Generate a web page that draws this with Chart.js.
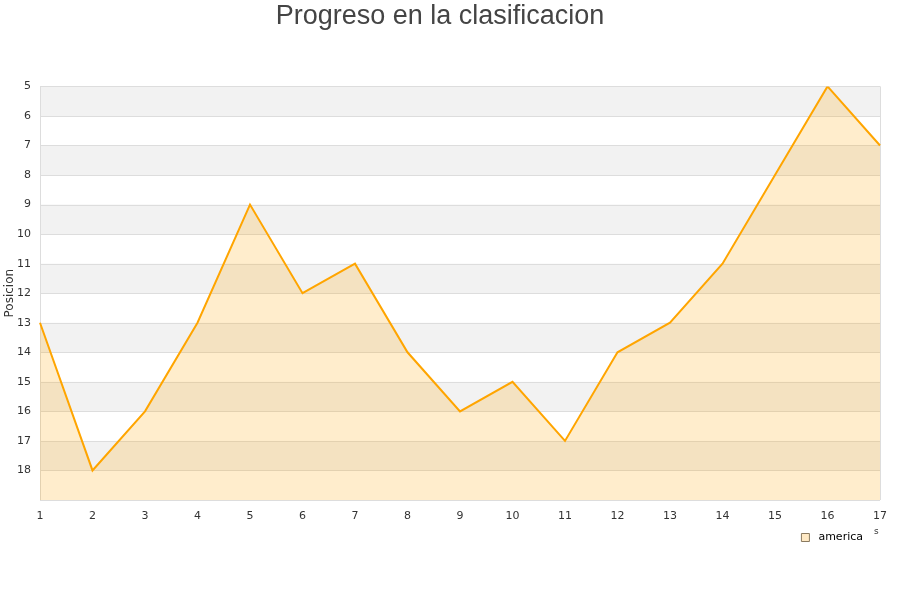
<!DOCTYPE html>
<html lang="es">
<head>
<meta charset="UTF-8">
<title>Progreso en la clasificacion</title>
<script src="https://cdn.jsdelivr.net/npm/chart.js"></script>
<style>
  html, body { margin: 0; padding: 0; background: #fff; }
  #wrap { width: 900px; height: 600px; position: relative; }
</style>
</head>
<body>
<div id="wrap"><canvas id="grafico"></canvas></div>
<script>
// datos
const jornadas = ['1','2','3','4','5','6','7','8','9','10','11','12','13','14','15','16','17'];
const posiciones = [13, 18, 16, 13, 9, 12, 11, 14, 16, 15, 17, 14, 13, 11, 8, 5, 7];
const equipo = 'america';
const posMin = 5;
const posMax = 19;

// franjas grises alternas detras de la grafica
const franjas = {
    id: 'franjas',
    afterLayout(chart) {
        // correr la leyenda un poco a la izquierda y abajo
        const lg = chart.legend;
        lg.left -= 11; lg.right -= 11;
        lg.top += 2; lg.bottom += 2;
    },
    beforeDatasetsDraw(chart) {
        const ctx = chart.ctx;
        const area = chart.chartArea;
        const y = chart.scales.y;
        ctx.save();
        ctx.fillStyle = '#f2f2f2';
        for (let v = posMin; v < posMax; v += 2) {
            const a = y.getPixelForValue(v);
            const b = y.getPixelForValue(v + 1);
            ctx.fillRect(area.left, a, area.right - area.left, b - a);
        }
        // lineas de la rejilla encima de las franjas
        ctx.strokeStyle = '#dddddd';
        ctx.lineWidth = 1;
        for (let v = posMin; v <= posMax; v++) {
            const p = Math.round(y.getPixelForValue(v)) + 0.5;
            ctx.beginPath();
            ctx.moveTo(area.left, p);
            ctx.lineTo(area.right, p);
            ctx.stroke();
        }
        ctx.beginPath();
        ctx.moveTo(Math.round(area.left) + 0.5, area.top);
        ctx.lineTo(Math.round(area.left) + 0.5, area.bottom);
        ctx.moveTo(Math.round(area.right) + 0.5, area.top);
        ctx.lineTo(Math.round(area.right) + 0.5, area.bottom);
        ctx.stroke();
        ctx.restore();
    },
    afterDraw(chart) {
        const ctx = chart.ctx;
        ctx.save();
        ctx.fillStyle = '#333';
        ctx.font = '9px "DejaVu Sans"';
        ctx.fillText('s', 874, 532);
        ctx.restore();
    }
};

new Chart(document.getElementById('grafico'), {
    type: 'line',
    data: {
        labels: jornadas,
        datasets: [{
            label: equipo,
            data: posiciones,
            borderColor: '#ffa500',
            backgroundColor: 'rgba(255, 165, 0, 0.2)',
            borderWidth: 2,
            pointRadius: 0,
            tension: 0,
            fill: 'start'
        }]
    },
    options: {
        responsive: true,
        maintainAspectRatio: false,
        animation: false,
        layout: { padding: { left: 0, right: 20, top: 0, bottom: 49 } },
        plugins: {
            title: {
                display: true,
                text: 'Progreso en la clasificacion',
                color: '#444',
                font: { family: '"Liberation Sans", Arial', size: 27, weight: 'normal' },
                padding: { top: 0, bottom: 54 }
            },
            legend: {
                position: 'bottom',
                align: 'end',
                labels: {
                    color: '#222',
                    font: { family: '"DejaVu Sans"', size: 11 },
                    boxWidth: 8,
                    boxHeight: 8,
                    padding: 6,
                    generateLabels() {
                        return [{
                            text: ' ' + equipo,
                            fillStyle: '#ffe9c4',
                            strokeStyle: '#8a7a60',
                            lineWidth: 1,
                            datasetIndex: 0
                        }];
                    }
                }
            },
            tooltip: { enabled: false }
        },
        scales: {
            x: {
                type: 'category',
                offset: false,
                grid: { display: false, drawTicks: false },
                border: { display: false },
                ticks: {
                    color: '#333',
                    font: { family: '"DejaVu Sans"', size: 11 },
                    padding: 10,
                    maxRotation: 0
                },
                afterFit(s) { s.height = 24; }
            },
            y: {
                type: 'linear',
                reverse: true,
                min: posMin,
                max: posMax,
                grid: { display: false, drawTicks: false },
                border: { display: false },
                ticks: {
                    stepSize: 1,
                    color: '#333',
                    font: { family: '"DejaVu Sans"', size: 11 },
                    padding: 9,
                    callback: v => (v < posMax ? v : '')
                },
                title: {
                    display: true,
                    text: 'Posicion',
                    color: '#333',
                    font: { family: '"DejaVu Sans"', size: 12 },
                    padding: { top: 3, bottom: 0 }
                },
                afterFit(s) { s.width = 40; }
            }
        }
    },
    plugins: [franjas]
});
</script>
</body>
</html>
